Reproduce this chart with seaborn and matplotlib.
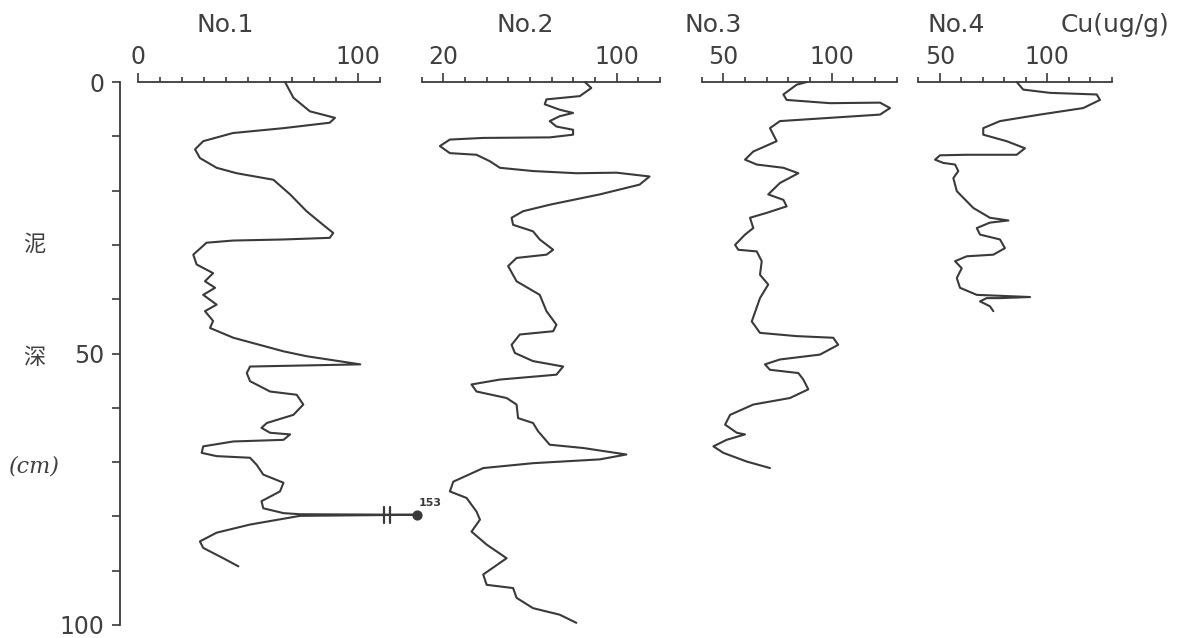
import matplotlib
matplotlib.use("Agg")
import matplotlib.pyplot as plt
import pandas as pd
import seaborn as sns

# ---------------- data ----------------
no1_depth = [0, 2.9, 5.4, 6.6, 7.5, 8.5, 9.4, 10.9, 12.4, 14, 15.8, 16.8, 18, 20.7, 23.8, 26.3,
             27.8, 28.7, 29, 29.2, 29.6, 31.8, 33.6, 35.2, 36.7, 37.9, 39.2, 41, 42.2, 44, 45.3,
             47.1, 49.6, 50.5, 52, 52.4, 53.6, 55.1, 57, 57.6, 59.4, 61.3, 62.8, 63.7, 64.6, 64.9,
             65.9, 66.2, 67.1, 68.3, 68.9, 69.2, 70.5, 72.3, 73.8, 75.4, 77.2, 78.5, 79.4, 79.6,
             79.7, 79.9, 81.5, 83, 84.6, 85.8, 87.7, 89.2]
no1_cu = [66.7, 70.5, 78, 89.4, 87, 66, 43, 29.5, 25.8, 28, 35.6, 44.7, 61.4, 69, 76.5, 84,
          88.6, 87, 66, 43, 31, 25, 26.5, 34, 30.3, 34.9, 29.5, 35.6, 30.3, 34, 32.6,
          43.2, 66, 76.5, 100.9, 50.8, 49.3, 50.8, 59.9, 72, 75, 70.5, 58.4, 56, 59.9, 69,
          66, 43.2, 29.5, 28.8, 35.6, 50.8, 53.8, 56.8, 66, 64.4, 56, 56.8, 66, 73.5,
          153, 73.5, 50.8, 35.6, 28, 29.5, 38.6, 45.5]

no2_depth = [0, 1.1, 2.6, 3.2, 4.1, 5.1, 5.7, 6.3, 7.2, 8.2, 8.8, 9.7, 10.2, 10.3, 10.6, 11.8,
             13.1, 13.4, 14.6, 15.8, 16.4, 16.8, 16.7, 17.4, 18.9, 20.7, 22.6, 23.8, 25, 26.3,
             27.5, 29, 30.9, 31.8, 32.4, 33.9, 36.7, 39.2, 42.2, 44.7, 45.9, 46.5, 48.4, 49.9,
             51.4, 52.4, 53.9, 54.8, 55.7, 57, 58.2, 59.4, 61.9, 62.8, 64.3, 66.8, 67.4, 68.6,
             69.5, 70.2, 71.1, 73.6, 75.4, 76.6, 79.1, 80.6, 82.8, 85.2, 87.7, 90.7, 92.6, 93.2,
             95, 96.9, 98.1, 99.6]
no2_cu = [85.3, 88.3, 83, 67.6, 66.8, 73.7, 79.9, 73.7, 69.1, 72.2, 79.9, 79.9, 69.1, 38.4, 23, 18.4,
          23, 35.3, 41.5, 46.1, 61.4, 81.4, 100, 115.2, 110.6, 92.2, 69.1, 56.8, 51.5, 52.2,
          61.4, 64.5, 70.7, 67.6, 53.8, 49.9, 53.8, 64.5, 67.6, 72.2, 70.7, 55.3, 51.5, 53,
          61.4, 75.3, 72.2, 46.1, 33, 35.3, 49.2, 53.8, 54.5, 61.4, 63.7, 69.1, 84.5, 104.5,
          92.2, 61.4, 38.4, 24.6, 23, 30.7, 35.3, 36.9, 33, 40, 49.2, 38.4, 40, 52.2,
          53.8, 61.4, 73.7, 81.4]

no3_depth = [0, 0.5, 2.3, 3.3, 3.9, 3.8, 4.8, 6.0, 6.6, 7.2, 8.5, 10.9, 12.8, 14.3, 15.2, 15.8,
             16.8, 18.6, 20.7, 21.7, 22.9, 24.1, 25, 26.9, 28.1, 30, 30.9, 31.2, 33, 35.5, 37.3,
             39.8, 44.1, 46.2, 46.8, 47.1, 48.4, 50.2, 51.1, 52, 53, 53.6, 54.8, 56.6, 58.2,
             59.4, 61.3, 63.1, 64.6, 64.9, 65.9, 67.1, 68.3, 69.9, 71.1]
no3_cu = [88.5, 83.8, 77.7, 79.2, 99.2, 122.3, 126.9, 122.3, 99.2, 76.1, 71.5, 74.6, 63.8, 60, 65.4, 77.7,
          84.6, 76.1, 70.7, 77.7, 79.2, 70, 62.3, 63.8, 60, 55.4, 56.9, 65.4, 67.7, 66.9, 70.7,
          66.9, 63.1, 66.9, 83.8, 100.7, 103, 94.6, 76.1, 69.2, 71.5, 84.6, 86.9, 89.2, 80.7,
          63.8, 53.1, 50.8, 56.2, 60, 51.5, 45.4, 50, 60.8, 71.5]

no4_depth = [0, 1.4, 2, 2.3, 3.3, 4.8, 6, 7.2, 8.5, 9.7, 10.9, 12.2, 13.4, 13.4, 13.5, 14.3,
             14.9, 15.2, 16.4, 17.7, 20.1, 23.2, 25, 25.5, 25.9, 26.9, 28.1, 29, 30.6, 31.8,
             32.1, 33, 34.3, 36.1, 37.9, 39.2, 39.6, 39.8, 39.8, 40.4, 41.3, 42.2]
no4_cu = [85.8, 88.8, 101.3, 123, 124.5, 116.7, 96.6, 78, 70.2, 70.2, 81.1, 89.6, 85.8, 62.5, 50.1, 47.8,
          51.6, 57.1, 58.6, 56.3, 57.9, 65.6, 73.3, 81.9, 73.3, 67.2, 68.7, 78, 80.3, 74.9,
          62.5, 57.1, 60.2, 57.9, 59.4, 67.2, 92, 78, 71.8, 68.7, 73.3, 74.9]

panel_titles = ["No.1", "No.2", "No.3", "No.4"]
unit_label = "Cu(ug/g)"
depth_ticks = [0, 10, 20, 30, 40, 50, 60, 70, 80, 90, 100]
depth_ticklabels = ["0", "", "", "", "", "50", "", "", "", "", "100"]
side_labels = ["泥", "深", "(cm)"]

# ---------------- style / layout ----------------
W, H = 1178, 638
INK = "#3a3a3a"
TXT = "#404040"
sns.set_theme(style="white")
plt.rcParams["font.family"] = ["DejaVu Sans", "Noto Sans CJK SC"]

fig = plt.figure(figsize=(W / 100, H / 100), dpi=100)
fig.patch.set_facecolor("white")

TOP_PX, BOT_PX = 82, 625          # depth 0 and depth 100 in pixels


def fx(px):
    return px / W


def fy(py):
    return 1 - py / H


panels = [
    dict(d=no1_depth, v=no1_cu, xlim=(0, 130), left=138.3, ppu=2.2, bounds=(0, 110),
         major=[0, 100], minor=[10, 20, 30, 40, 50, 60, 70, 80, 90, 110]),
    dict(d=no2_depth, v=no2_cu, xlim=(10, 120), left=421.7, ppu=2.166, bounds=(10, 120),
         major=[20, 100], minor=[10, 30, 40, 50, 60, 70, 80, 90, 110, 120]),
    dict(d=no3_depth, v=no3_cu, xlim=(40, 130), left=701.7, ppu=2.167, bounds=(40, 130),
         major=[50, 100], minor=[40, 60, 70, 80, 90, 110, 120, 130]),
    dict(d=no4_depth, v=no4_cu, xlim=(40, 130), left=918.3, ppu=2.15, bounds=(40, 130),
         major=[50, 100], minor=[40, 60, 70, 80, 90, 110, 120, 130]),
]

BREAK_POS = 126.6     # where off-scale values are drawn (after the break)

axes = []
for i, p in enumerate(panels):
    width_px = (p["xlim"][1] - p["xlim"][0]) * p["ppu"]
    ax = fig.add_axes([fx(p["left"]), fy(BOT_PX), width_px / W, (BOT_PX - TOP_PX) / H])
    ax.patch.set_alpha(0)
    vals = [v if v <= p["bounds"][1] else BREAK_POS for v in p["v"]]
    df = pd.DataFrame({"cu": vals, "depth": p["d"]})
    sns.lineplot(data=df, x="cu", y="depth", sort=False, estimator=None,
                 color=INK, linewidth=1.5, ax=ax)
    for ln in ax.lines:
        ln.set_clip_on(False)
        ln.set_solid_joinstyle("round")
        ln.set_solid_capstyle("round")
    ax.set_xlim(*p["xlim"])
    ax.set_ylim(100, 0)
    ax.set_xlabel("")
    ax.set_ylabel("")
    for s in ["left", "right", "bottom"]:
        ax.spines[s].set_visible(False)
    ax.spines["top"].set_color(INK)
    ax.spines["top"].set_linewidth(1.3)
    ax.spines["top"].set_bounds(*p["bounds"])
    ax.set_yticks([])
    ax.xaxis.set_ticks_position("top")
    ax.set_xticks(p["major"])
    ax.set_xticklabels([str(m) for m in p["major"]])
    ax.set_xticks(p["minor"], minor=True)
    ax.tick_params(axis="x", which="both", top=True, bottom=False, labeltop=True,
                   labelbottom=False, direction="out", color=INK, width=1.2)
    ax.tick_params(axis="x", which="major", length=6.5, pad=3, labelsize=17, labelcolor=TXT)
    ax.tick_params(axis="x", which="minor", length=3.5)
    axes.append(ax)

# off-scale value on No.1 (broken axis)
ax1 = axes[0]
scale_end_1 = panels[0]["bounds"][1]
for k, v in enumerate(no1_cu):
    if v > scale_end_1:
        dep = no1_depth[k]
        for bx in (111.5, 114.6):
            ax1.plot([bx, bx], [dep - 1.5, dep + 1.5], color=INK, lw=1.6, clip_on=False)
        ax1.scatter([BREAK_POS], [dep], s=40, color=INK, zorder=5, clip_on=False)
        ax1.annotate(f"{v:g}", (BREAK_POS, dep), xytext=(1, 5), textcoords="offset points",
                     fontsize=8, fontweight="bold", color=INK, ha="left", va="bottom")

# depth axis
axd = fig.add_axes([fx(120), fy(BOT_PX), 0.0005, (BOT_PX - TOP_PX) / H])
axd.patch.set_alpha(0)
axd.set_ylim(100, 0)
for s in ["top", "right", "bottom"]:
    axd.spines[s].set_visible(False)
axd.spines["left"].set_color(INK)
axd.spines["left"].set_linewidth(1.3)
axd.spines["left"].set_bounds(0, 100)
axd.set_xticks([])
axd.set_yticks(depth_ticks)
axd.set_yticklabels(depth_ticklabels)
axd.tick_params(axis="y", which="major", left=True, direction="out", length=6, width=1.2,
                pad=5, labelsize=17, color=INK, labelcolor=TXT)

# titles
title_x = [225, 525, 713, 956]
for t, x in zip(panel_titles, title_x):
    fig.text(fx(x), fy(25), t, ha="center", va="center", fontsize=18, color=TXT)
fig.text(fx(1115), fy(25), unit_label, ha="center", va="center", fontsize=18, color=TXT)

# side label
fig.text(fx(34), fy(244), side_labels[0], ha="center", va="center", fontsize=16, color=TXT,
         family=["Noto Sans CJK SC", "DejaVu Sans"])
fig.text(fx(34), fy(357), side_labels[1], ha="center", va="center", fontsize=16, color=TXT,
         family=["Noto Sans CJK SC", "DejaVu Sans"])
fig.text(fx(34), fy(467), side_labels[2], ha="center", va="center", fontsize=16, color=TXT,
         family=["DejaVu Serif"], style="italic")

fig.savefig("out.png", dpi=100, facecolor="white")
